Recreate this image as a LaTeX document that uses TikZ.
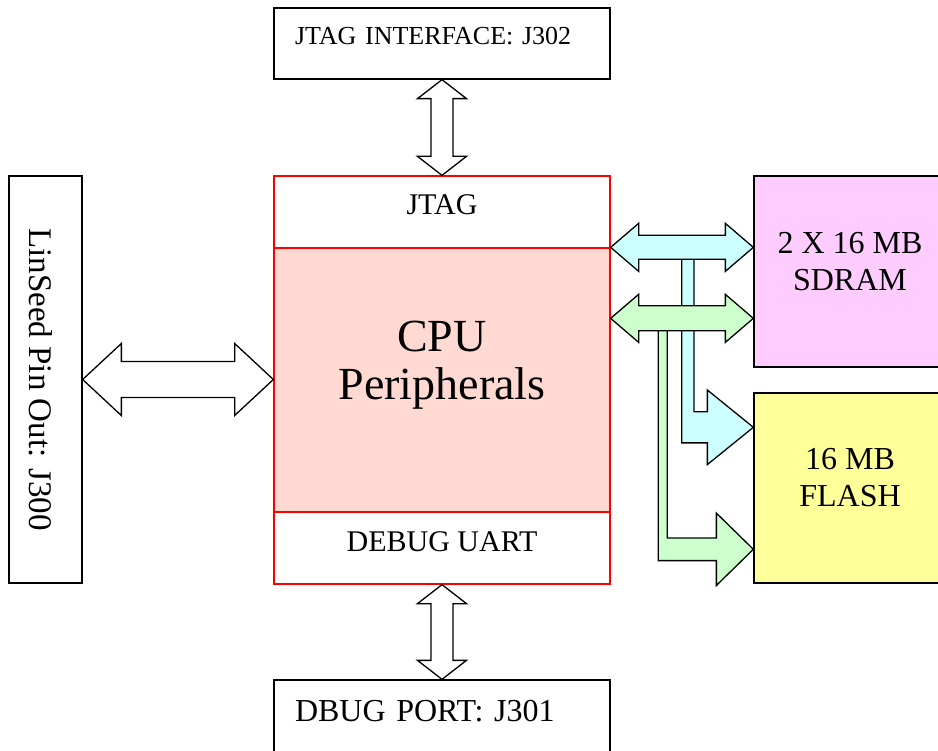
\documentclass[tikz,border=0pt]{standalone}
\usepackage{fontspec}
\setmainfont{Liberation Serif}
\usetikzlibrary{calc}
\definecolor{cpupink}{RGB}{255,217,210}
\definecolor{rampink}{RGB}{255,204,255}
\definecolor{flashyellow}{RGB}{255,255,153}
\definecolor{buscyan}{RGB}{204,255,255}
\definecolor{busgreen}{RGB}{204,255,204}
\begin{document}
\begin{tikzpicture}[x=1pt,y=-1pt,line width=1.3pt,
  box/.style={draw,rectangle,inner sep=0pt,minimum width=336pt},
  cpubox/.style={box,draw=red},
  hdarrow/.style n args={3}{draw,fill=white,to path={let \p1=(\tikztostart),\p2=(\tikztotarget) in
    (\x1,\y1) -- (\x1+#1,\y1+#2) -- (\x1+#1,\y1+#3) -- (\x2-#1,\y1+#3) -- (\x2-#1,\y1+#2) -- (\x2,\y1)
    -- (\x2-#1,\y1-#2) -- (\x2-#1,\y1-#3) -- (\x1+#1,\y1-#3) -- (\x1+#1,\y1-#2) -- cycle}},
  vdarrow/.style n args={3}{draw,fill=white,to path={let \p1=(\tikztostart),\p2=(\tikztotarget) in
    (\x1,\y1) -- (\x1+#2,\y1-#1) -- (\x1+#3,\y1-#1) -- (\x1+#3,\y2+#1) -- (\x1+#2,\y2+#1) -- (\x1,\y2)
    -- (\x1-#2,\y2+#1) -- (\x1-#3,\y2+#1) -- (\x1-#3,\y1-#1) -- (\x1-#2,\y1-#1) -- cycle}},
  bentarrow/.style n args={4}{draw,to path={let \p1=(\tikztostart),\p2=(\tikztotarget) in
    (\x1,\y1) -- (\x1,\y2-#2) -- (\x2-#3,\y2-#2) -- (\x2-#3,\y2-#4) -- (\x2,\y2)
    -- (\x2-#3,\y2+#4) -- (\x2-#3,\y2+#2) -- (\x1+#1,\y2+#2) -- (\x1+#1,\y1) -- cycle}}]
\useasboundingbox (0,0) rectangle (938,751);
% boxes
\node[box,text width=294pt,inner xsep=21pt,align=left,minimum height=71pt,text height=18pt,text depth=16.4pt,font=\fontsize{26}{30}\selectfont] (jtagif) at (442,43.5) {JTAG INTERFACE: J302};
\node[cpubox,minimum height=72pt,text height=21pt,text depth=15pt,font=\fontsize{30}{34}\selectfont] (cpujtag) at (442,212) {JTAG};
\node[cpubox,fill=cpupink,minimum height=264pt,align=center,text height=80pt,text depth=40pt,font=\fontsize{46}{48}\selectfont] (cpumid) at (442,380) {CPU\\Peripherals};
\node[cpubox,minimum height=72pt,text height=21pt,text depth=13.6pt,font=\fontsize{30}{34}\selectfont] (cpuuart) at (442,548) {DEBUG UART};
\node[box,text width=294pt,inner xsep=21pt,align=left,minimum height=72pt,text height=23pt,text depth=13pt,font=\fontsize{32}{36}\selectfont] (dbgport) at (442,716) {DBUG PORT: J301};
\node[draw,inner sep=0pt,rotate=-90,minimum width=407pt,minimum height=73pt,text height=31pt,text depth=0pt,font=\fontsize{33}{38}\selectfont] (linseed) at (45.5,379.5) {LinSeed Pin Out: J300};
\node[draw,fill=rampink,inner sep=0pt,minimum width=192pt,minimum height=191pt,align=center,text height=60pt,text depth=22pt,font=\fontsize{32}{37.4}\selectfont] (sdram) at (850,271.5) {2 X 16 MB\\SDRAM};
\node[draw,fill=flashyellow,inner sep=0pt,minimum width=192pt,minimum height=190pt,align=center,text height=60pt,text depth=22pt,font=\fontsize{32}{37.4}\selectfont] (flash) at (850,488) {16 MB\\FLASH};
% bus taps
\coordinate (cyantap) at (681.7,248);
\coordinate (greentap) at (658.3,319);
\coordinate (greenout) at ([yshift=-71pt]cpumid.north east);
\coordinate (cyantip) at ([yshift=60.7pt]flash.west);
\coordinate (greentip) at ([yshift=-61.3pt]flash.west);
% arrows
\path[bentarrow={12.3pt}{15.6pt}{46pt}{37.3pt},fill=buscyan] (cyantap) to (cyantip);
\path[bentarrow={9pt}{11.3pt}{37pt}{36.2pt},fill=busgreen] (greentap) to (greentip);
\path[hdarrow={28pt}{24pt}{12pt},fill=buscyan] (cpumid.north east) to (sdram.west);
\path[hdarrow={28pt}{24pt}{12.5pt},fill=busgreen] (greenout) to (sdram.west);
\path[hdarrow={38.7pt}{36pt}{18pt}] (linseed.north) to (cpumid.west);
\path[vdarrow={19pt}{24.5pt}{11pt}] (jtagif.south) to (cpujtag.north);
\path[vdarrow={19pt}{24.5pt}{11pt}] (cpuuart.south) to (dbgport.north);
\end{tikzpicture}
\end{document}
